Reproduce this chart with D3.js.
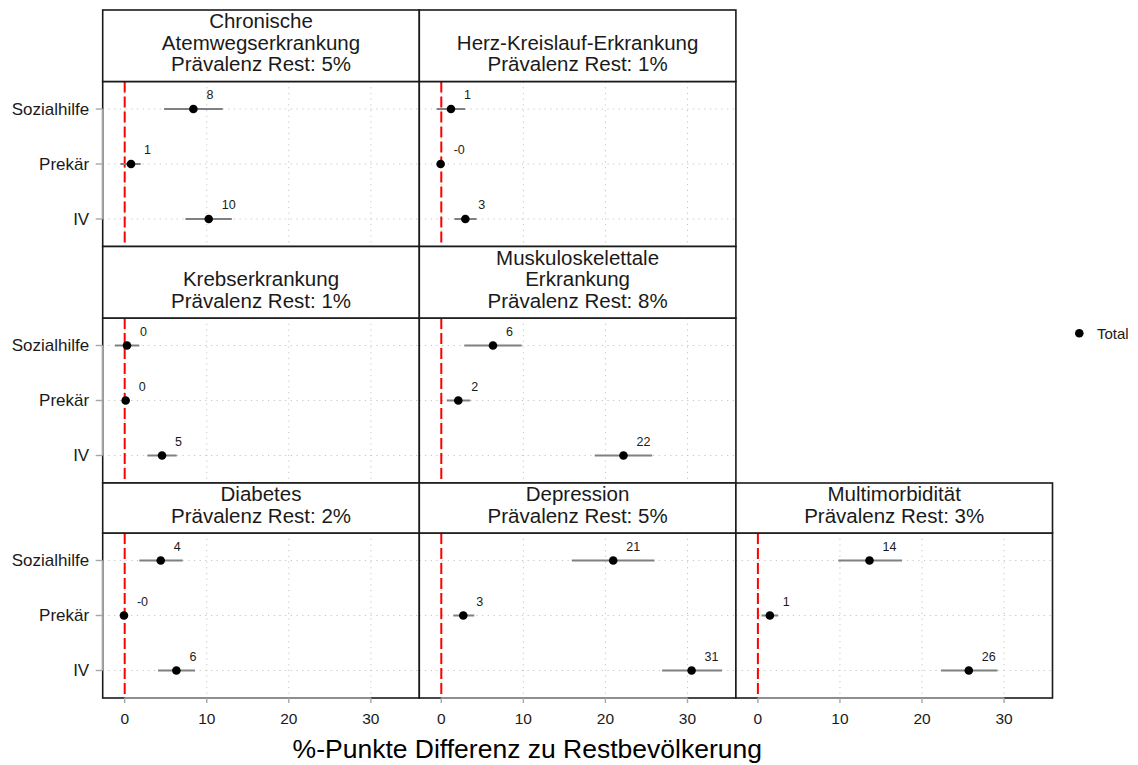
<!DOCTYPE html>
<html>
<head>
<meta charset="utf-8">
<script src="https://cdn.jsdelivr.net/npm/d3@7"></script>
<style>
  html, body { margin: 0; padding: 0; background: #fff; }
  svg { display: block; font-family: "Liberation Sans", Arial, sans-serif; }
</style>
</head>
<body>
<svg id="chart" width="1138" height="765"></svg>
<script>
// ---------------- DATA ----------------
const groups = ["Sozialhilfe", "Prekär", "IV"];
const diseaseTitles = [
  "Chronische\nAtemwegserkrankung",
  "Herz-Kreislauf-Erkrankung",
  "Krebserkrankung",
  "Muskuloskelettale\nErkrankung",
  "Diabetes",
  "Depression",
  "Multimorbidität"
];
const prevalenceRest = [5, 1, 1, 8, 2, 5, 3];

// point estimates (%-points difference), per disease
const estSozialhilfe = [8.37, 1.18, 0.28, 6.3, 4.39, 20.95, 13.6];
const estPrekaer     = [0.77, -0.08, 0.12, 2.07, -0.09, 2.68, 1.46];
const estIV          = [10.24, 2.93, 4.55, 22.2, 6.3, 30.5, 25.7];
// confidence intervals
const loSozialhilfe  = [4.8, -0.56, -1.18, 2.8, 1.78, 15.9, 9.8];
const hiSozialhilfe  = [11.95, 2.9, 1.78, 9.8, 7.07, 25.98, 17.56];
const loPrekaer      = [-0.5, -0.3, -0.1, 0.66, -0.4, 1.46, 0.45];
const hiPrekaer      = [1.95, 0.15, 0.35, 3.54, 0.2, 4.02, 2.48];
const loIV           = [7.4, 1.6, 2.76, 18.7, 4.06, 26.9, 22.3];
const hiIV           = [13.05, 4.3, 6.34, 25.7, 8.57, 34.2, 29.2];

const xTicks = [0, 10, 20, 30];
const xTitle = "%-Punkte Differenz zu Restbevölkerung";
const legendLabel = "Total";

// ---------------- LAYOUT ----------------
const panelRow = [0, 0, 1, 1, 2, 2, 2];
const panelCol = [0, 1, 0, 1, 0, 1, 2];
const left0 = 102.7, panelW = 316.6;
const rowTop = [10, 246.5, 483];
const stripH = [71.5, 71.5, 50];
const panelH = 165;
const lineStep = 21.5;
const xDomain = [-2.68, 35.9];

const svg = d3.select("#chart");

const estimates = [estSozialhilfe, estPrekaer, estIV];
const lows = [loSozialhilfe, loPrekaer, loIV];
const highs = [hiSozialhilfe, hiPrekaer, hiIV];

function labelOf(v) {
  const r = Math.round(v);
  if (v < 0 && r === 0) return "-0";
  return String(r);
}

diseaseTitles.forEach((title, i) => {
  const r = panelRow[i], c = panelCol[i];
  const left = left0 + c * panelW;
  const sTop = rowTop[r];
  const pTop = sTop + stripH[r];
  const pBot = pTop + panelH;

  const x = d3.scaleLinear().domain(xDomain).range([left, left + panelW]);
  const y = d3.scalePoint().domain(groups).range([pTop, pBot]).padding(0.5);

  const g = svg.append("g");

  g.append("rect").attr("x", left).attr("y", pTop).attr("width", panelW).attr("height", panelH)
    .attr("fill", "#fff");

  g.selectAll(".vg").data(xTicks).join("line")
    .attr("x1", d => x(d)).attr("x2", d => x(d)).attr("y1", pTop).attr("y2", pBot)
    .attr("stroke", "#c4c4c4").attr("stroke-width", 1).attr("stroke-dasharray", "1.2,4.5");
  g.selectAll(".hg").data(groups).join("line")
    .attr("x1", left).attr("x2", left + panelW).attr("y1", d => y(d)).attr("y2", d => y(d))
    .attr("stroke", "#c4c4c4").attr("stroke-width", 1).attr("stroke-dasharray", "1.2,4.5");

  g.append("line").attr("x1", x(0)).attr("x2", x(0)).attr("y1", pTop).attr("y2", pBot)
    .attr("stroke", "#ff0000").attr("stroke-width", 2).attr("stroke-dasharray", "11,4");

  const rows = groups.map((grp, k) => ({
    grp, v: estimates[k][i], lo: lows[k][i], hi: highs[k][i]
  }));

  g.selectAll(".ci").data(rows).join("line")
    .attr("x1", d => x(d.lo)).attr("x2", d => x(d.hi))
    .attr("y1", d => y(d.grp)).attr("y2", d => y(d.grp))
    .attr("stroke", "#808080").attr("stroke-width", 2);
  g.selectAll(".pt").data(rows).join("circle")
    .attr("cx", d => x(d.v)).attr("cy", d => y(d.grp)).attr("r", 4.3).attr("fill", "#000");
  g.selectAll(".lbl").data(rows).join("text")
    .attr("x", d => x(d.v) + 13).attr("y", d => y(d.grp) - 9.7)
    .attr("font-size", "12.5px").attr("fill", "#1a1a1a")
    .text(d => labelOf(d.v));

  g.append("rect").attr("x", left).attr("y", pTop).attr("width", panelW).attr("height", panelH)
    .attr("fill", "none").attr("stroke", "#1a1a1a").attr("stroke-width", 1.6);

  g.append("rect").attr("x", left).attr("y", sTop).attr("width", panelW).attr("height", stripH[r])
    .attr("fill", "#fff").attr("stroke", "#1a1a1a").attr("stroke-width", 1.6);
  const lines = title.split("\n").concat(["Prävalenz Rest: " + prevalenceRest[i] + "%"]);
  const lastBase = pTop - 10.5;
  const n = lines.length;
  g.selectAll(".st").data(lines).join("text")
    .attr("x", left + panelW / 2)
    .attr("y", (d, k) => lastBase - (n - 1 - k) * lineStep)
    .attr("text-anchor", "middle").attr("font-size", "20.5px").attr("fill", "#1a1a1a")
    .text(d => d);

  if (c === 0) {
    g.append("line").attr("x1", left).attr("x2", left)
      .attr("y1", y(groups[0])).attr("y2", y(groups[groups.length - 1]))
      .attr("stroke", "#a6a6a6").attr("stroke-width", 1.6);
    g.selectAll(".yt").data(groups).join("line")
      .attr("x1", left - 7).attr("x2", left).attr("y1", d => y(d)).attr("y2", d => y(d))
      .attr("stroke", "#a6a6a6").attr("stroke-width", 1.4);
    g.selectAll(".yl").data(groups).join("text")
      .attr("x", left - 13.5).attr("y", d => y(d)).attr("dy", "0.35em")
      .attr("text-anchor", "end").attr("font-size", "17px").attr("fill", "#1a1a1a")
      .text(d => d);
  }
  if (r === 2) {
    g.append("line").attr("x1", x(xTicks[0])).attr("x2", x(xTicks[xTicks.length - 1]))
      .attr("y1", pBot).attr("y2", pBot)
      .attr("stroke", "#a6a6a6").attr("stroke-width", 1.6);
    g.selectAll(".xt").data(xTicks).join("line")
      .attr("x1", d => x(d)).attr("x2", d => x(d)).attr("y1", pBot).attr("y2", pBot + 5)
      .attr("stroke", "#a6a6a6").attr("stroke-width", 1.4);
    g.selectAll(".xl").data(xTicks).join("text")
      .attr("x", d => x(d)).attr("y", pBot + 25.5)
      .attr("text-anchor", "middle").attr("font-size", "15.5px").attr("fill", "#1a1a1a")
      .text(d => d);
  }
});

svg.append("text").attr("x", 527.3).attr("y", 758)
  .attr("text-anchor", "middle").attr("font-size", "26.5px").attr("fill", "#000")
  .text(xTitle);

svg.append("circle").attr("cx", 1079.3).attr("cy", 333.3).attr("r", 4.3).attr("fill", "#000");
svg.append("text").attr("x", 1097).attr("y", 333.3).attr("dy", "0.35em")
  .attr("font-size", "15px").attr("fill", "#1a1a1a").text(legendLabel);
</script>
</body>
</html>
